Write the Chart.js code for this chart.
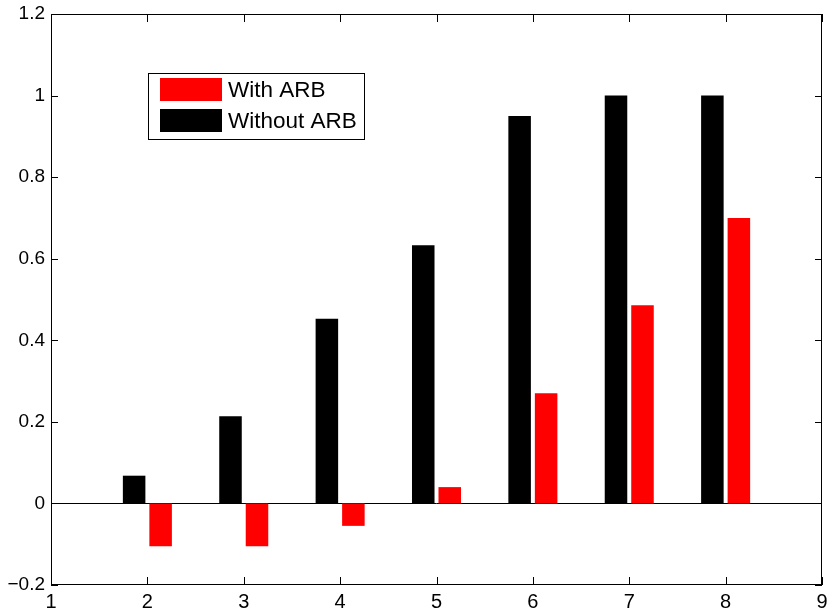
<html>
<head>
<script src="https://cdn.jsdelivr.net/npm/chart.js"></script>
<style>
  body { margin: 0; background: #fff; }
  #wrap { width: 829px; height: 614px; }
</style>
</head>
<body>
<div id="wrap"><canvas id="chartCanvas" width="829" height="614"></canvas></div>
<script>
// x positions 1..9, bars only at 2..8
var xLabels = ['1', '2', '3', '4', '5', '6', '7', '8', '9'];
var withoutARB = [null, 0.068, 0.214, 0.453, 0.633, 0.95, 1.0, 1.0, null];
var withARB = [null, -0.105, -0.105, -0.055, 0.04, 0.27, 0.486, 0.70, null];
var yMin = -0.2, yMax = 1.2, yStep = 0.2;

var fontFam = '"Liberation Sans", Arial, sans-serif';

// box, inward ticks and the legend, the way matlab draws them
var matlabFrame = {
    id: 'matlabFrame',
    afterDatasetsDraw: function(chart) {
        var ctx = chart.ctx;
        var a = chart.chartArea;
        var xs = chart.scales.x, ys = chart.scales.y;
        ctx.save();
        ctx.strokeStyle = '#000';
        ctx.lineWidth = 1;
        ctx.strokeRect(a.left + 0.5, a.top + 0.5, a.right - a.left - 1, a.bottom - a.top - 1);
        ctx.beginPath();
        ys.ticks.forEach(function(t) {
            var py = Math.round(ys.getPixelForValue(t.value)) + 0.5;
            ctx.moveTo(a.left, py); ctx.lineTo(a.left + 7, py);
            ctx.moveTo(a.right, py); ctx.lineTo(a.right - 7, py);
        });
        xs.ticks.forEach(function(t, i) {
            var px = Math.round(xs.getPixelForTick(i)) + 0.5;
            ctx.moveTo(px, a.bottom); ctx.lineTo(px, a.bottom - 8);
            ctx.moveTo(px, a.top); ctx.lineTo(px, a.top + 8);
        });
        ctx.stroke();

        // legend: red entry listed first
        var lx = 148, ly = 73, lw = 216, lh = 66;
        ctx.fillStyle = '#fff';
        ctx.fillRect(lx, ly, lw, lh);
        ctx.strokeRect(lx + 0.5, ly + 0.5, lw, lh);
        var order = [1, 0];
        ctx.font = '22.5px ' + fontFam;
        ctx.textBaseline = 'middle';
        order.forEach(function(di, k) {
            var ds = chart.data.datasets[di];
            var sy = ly + 5 + k * 31;
            ctx.fillStyle = ds.backgroundColor;
            ctx.fillRect(lx + 12, sy, 62, 23);
            ctx.fillStyle = '#000';
            ctx.fillText(ds.label, lx + 80, sy + 13);
        });
        ctx.restore();
    }
};

var ctx = document.getElementById('chartCanvas').getContext('2d');
var chart = new Chart(ctx, {
    type: 'bar',
    data: {
        labels: xLabels,
        datasets: [
            {
                label: 'Without ARB',
                backgroundColor: '#000000',
                data: withoutARB,
                categoryPercentage: 0.55,
                barPercentage: 0.85
            },
            {
                label: 'With ARB',
                backgroundColor: '#ff0000',
                data: withARB,
                categoryPercentage: 0.55,
                barPercentage: 0.85
            }
        ]
    },
    options: {
        responsive: false,
        animation: false,
        layout: { padding: { top: 14, right: 7, left: 0, bottom: 0 } },
        plugins: {
            legend: { display: false },
            tooltip: { enabled: false }
        },
        scales: {
            x: {
                offset: false,
                grid: { display: false, drawTicks: false },
                border: { display: false },
                ticks: {
                    color: '#000',
                    font: { family: fontFam, size: 20 },
                    padding: 5,
                    maxRotation: 0,
                    autoSkip: false
                },
                afterFit: function(s) {
                    s.height = 29;
                    s.paddingLeft = 0; s.paddingRight = 0;
                }
            },
            y: {
                min: yMin,
                max: yMax,
                grid: {
                    drawTicks: false,
                    color: function(c) {
                        return (c.tick && Math.abs(c.tick.value) < 1e-9) ? '#000' : 'rgba(0,0,0,0)';
                    }
                },
                border: { display: false },
                ticks: {
                    stepSize: yStep,
                    color: '#000',
                    font: { family: fontFam, size: 19 },
                    padding: 6,
                    callback: function(v) {
                        var n = Number(v.toFixed(1));
                        return n < 0 ? '\u2212' + Math.abs(n) : String(n);
                    }
                },
                afterFit: function(s) {
                    s.width = 51;
                    s.paddingTop = 0; s.paddingBottom = 0;
                }
            }
        }
    },
    plugins: [matlabFrame]
});
</script>
</body>
</html>
